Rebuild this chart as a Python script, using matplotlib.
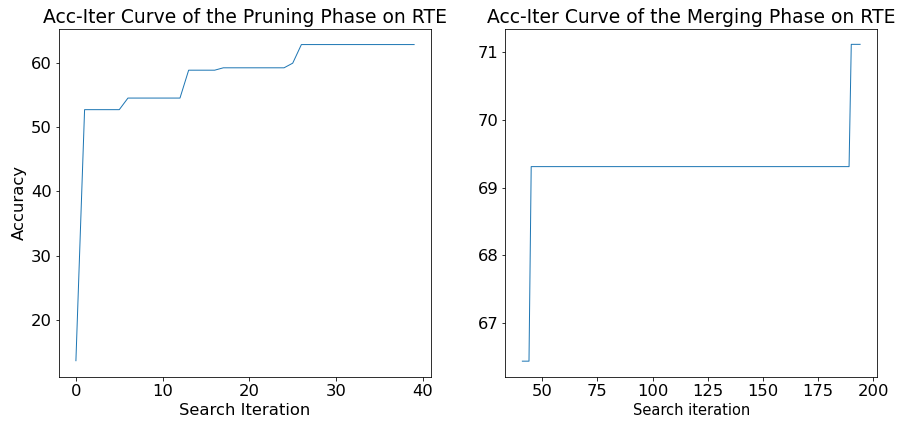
import matplotlib
matplotlib.use("Agg")
import matplotlib.pyplot as plt

# pruning phase: iteration breakpoints and accuracy (%)
prune_iter = [0, 1, 5, 6, 12, 13, 16, 17, 24, 25, 26, 39]
prune_acc = [13.72, 52.71, 52.71, 54.51, 54.51, 58.84, 58.84, 59.21, 59.21, 59.93, 62.82, 62.82]

# merging phase
merge_iter = [41, 44, 45, 189, 190, 194]
merge_acc = [66.43, 66.43, 69.31, 69.31, 71.12, 71.12]

fig = plt.figure(figsize=(898 / 72, 421 / 72), dpi=72)
ax1 = fig.add_axes([0.0657, 0.1057, 0.4143, 0.826])
ax2 = fig.add_axes([0.5629, 0.1045, 0.4137, 0.8278])

ax1.plot(prune_iter, prune_acc, color='#1f77b4', linewidth=1.0)
ax1.set_title("Acc-Iter Curve of the Pruning Phase on RTE", fontsize=18.8)
ax1.set_xlabel("Search Iteration", fontsize=16.4)
ax1.set_ylabel("Accuracy", fontsize=16.4)
ax1.tick_params(labelsize=16.4)

ax2.plot(merge_iter, merge_acc, color='#1f77b4', linewidth=1.0)
ax2.set_title("Acc-Iter Curve of the Merging Phase on RTE", fontsize=18.8)
ax2.set_xlabel("Search iteration", fontsize=14.6)
ax2.tick_params(labelsize=16.4)

fig.savefig("out.png", dpi=72)
